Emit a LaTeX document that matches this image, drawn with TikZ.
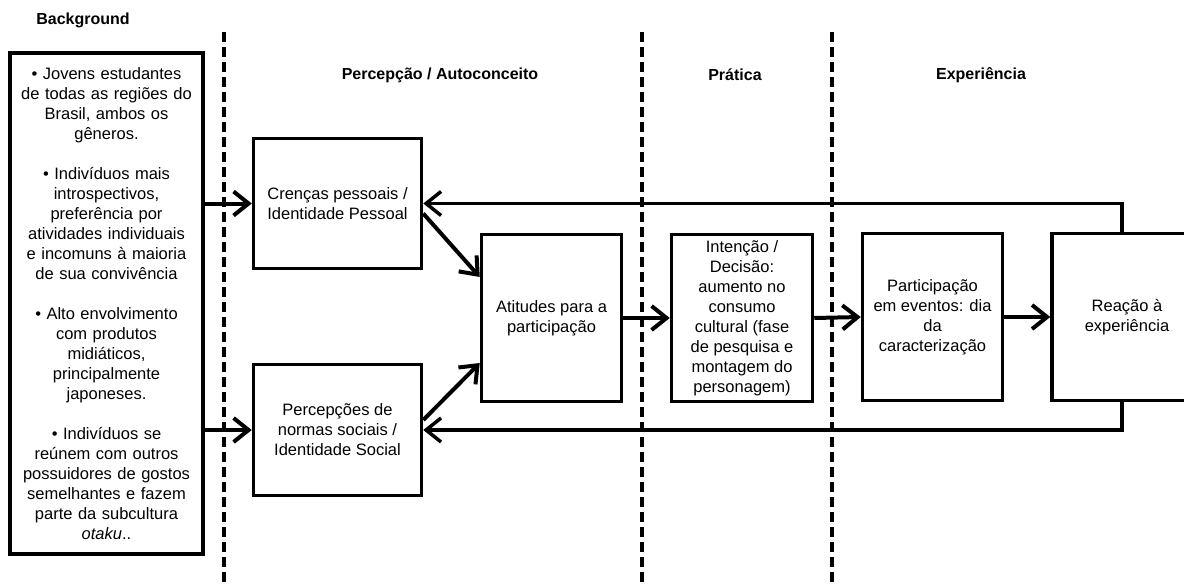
\documentclass[tikz,border=0pt]{standalone}
\usepackage{fontspec}
\setmainfont{Liberation Sans}
\usetikzlibrary{arrows.meta}
\begin{document}
\begin{tikzpicture}[x=1pt,y=-1pt,
  box/.style={draw, line width=3.5pt, align=center, inner sep=2pt,
    font=\fontsize{16.5}{20}\selectfont},
  tip/.style={-{Straight Barb[length=15pt,width=24pt]}},
  arr/.style={line width=4pt, tip},
  link/.style={line width=3.5pt, tip},
  divider/.style={line width=3.5pt, dash pattern=on 10pt off 5pt},
  head/.style={font=\bfseries\fontsize{16}{19}\selectfont}]
\useasboundingbox (0,0) rectangle (1184,586);
\clip (0,0) rectangle (1184,586);

% column dividers
\coordinate (d1t) at (224,32);  \coordinate (d1b) at (224,586);
\coordinate (d2t) at (642,32);  \coordinate (d2b) at (642,586);
\coordinate (d3t) at (832,32);  \coordinate (d3b) at (832,586);
\draw[divider] (d1t) -- (d1b);
\draw[divider] (d2t) -- (d2b);
\draw[divider] (d3t) -- (d3b);

% column headings
\node[head] (hbg)   at (83,20)  {Background};
\node[head] (hperc) at (440,75) {Percepção / Autoconceito};
\node[head] (hprat) at (735,75) {Prática};
\node[head] (hexp)  at (981,75) {Experiência};

% background box
\node[box, minimum width=193, minimum height=501, text width=185] (bg) at (106.5,303.5)
{• Jovens estudantes\\ de todas as regiões do\\ Brasil, ambos os\\ gêneros.\\[20pt]
 • Indivíduos mais\\ introspectivos,\\ preferência por\\ atividades individuais\\ e incomuns à maioria\\ de sua convivência\\[20pt]
 • Alto envolvimento\\ com produtos\\ midiáticos,\\ principalmente\\ japoneses.\\[20pt]
 • Indivíduos se\\ reúnem com outros\\ possuidores de gostos\\ semelhantes e fazem\\ parte da subcultura\\ \textit{otaku}..};

% process boxes
\node[box, minimum width=168, minimum height=130] (cren) at (337.5,203.5)
  {Crenças pessoais /\\ Identidade Pessoal};
\node[box, minimum width=168, minimum height=131] (perc) at (337.5,430)
  {Percepções de\\ normas sociais /\\ Identidade Social};
\node[box, minimum width=140, minimum height=167] (atit) at (551.5,318)
  {Atitudes para a\\ participação};
\node[box, minimum width=141, minimum height=167] (inte) at (742,318)
  {Intenção /\\ Decisão:\\ aumento no\\ consumo\\ cultural (fase\\ de pesquisa e\\ montagem do\\ personagem)};
\node[box, minimum width=140, minimum height=167] (part) at (932.5,317)
  {Participação\\ em eventos: dia\\ da\\ caracterização};
\node[box, minimum width=150, minimum height=167] (reac) at (1127,317)
  {Reação à\\ experiência};

% forward connectors
\draw[arr] (bg.east |- cren.west) -- (cren.west);
\draw[arr] (bg.east |- perc.west) -- (perc.west);
\draw[arr] ([yshift=-10pt]cren.east) -- ([yshift=41pt]atit.west);
\draw[arr] ([yshift=10pt]perc.east) -- ([yshift=-45pt]atit.west);
\draw[arr] (atit.east) -- (inte.west);
\draw[arr] (inte.east) -- (part.west);
\draw[arr] (part.east) -- (reac.west);

% feedback loops
\coordinate (fbx) at (1122,0);
\draw[link] (reac.north -| fbx) |- (cren.east);
\draw[link] (reac.south -| fbx) |- (perc.east);
\end{tikzpicture}
\end{document}
